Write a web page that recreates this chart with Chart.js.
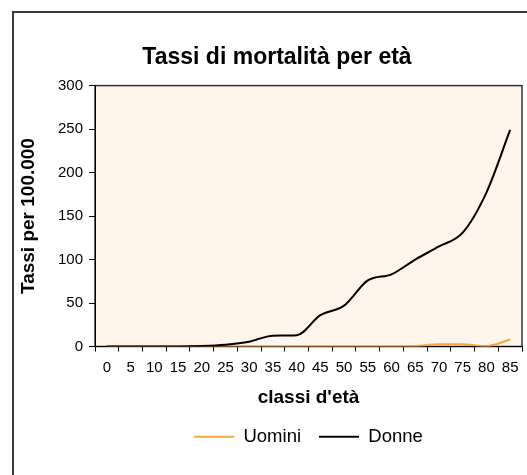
<!DOCTYPE html>
<html>
<head>
<meta charset="utf-8">
<script src="https://cdn.jsdelivr.net/npm/chart.js@4.4.1/dist/chart.umd.min.js"></script>
<style>
    html, body { margin: 0; padding: 0; background: #fff; }
    #wrap { position: relative; width: 527px; height: 475px; }
</style>
</head>
<body>
<div id="wrap"><canvas id="mortalityChart" width="527" height="475"></canvas></div>
<script>
// classi d'età (categorie asse x)
var ageClasses = ['0', '5', '10', '15', '20', '25', '30', '35', '40', '45', '50', '55', '60', '65', '70', '75', '80', '85'];
// tassi per 100.000
var uominiRates = [0, 0, 0, 0, 0, 0, 0, 0, 0, 0, 0, 0, 0, 0.5, 2.5, 2.5, 0.5, 8];
var donneRates = [0, 0, 0, 0, 0.5, 2, 5.5, 12.5, 13, 36, 47, 76, 83, 100, 115, 131, 177, 249];
var yTicks = [0, 50, 100, 150, 200, 250, 300];

var fontFamily = "'Liberation Sans', Arial, sans-serif";

// cornice esterna + sfondo area del tracciato
var frameAndPlot = {
    id: 'frameAndPlot',
    beforeDraw: function (chart) {
        var ctx = chart.ctx;
        var a = chart.chartArea;
        ctx.save();
        ctx.fillStyle = '#ffffff';
        ctx.fillRect(0, 0, chart.width, chart.height);
        ctx.strokeStyle = '#3a3a3a';
        ctx.lineWidth = 2;
        ctx.strokeRect(13, 12, chart.width + 20, chart.height + 20);
        ctx.fillStyle = '#FFF5EB';
        ctx.fillRect(a.left, a.top, a.right - a.left, a.bottom - a.top);
        ctx.strokeStyle = '#333333';
        ctx.lineWidth = 1.5;
        ctx.strokeRect(a.left, a.top, a.right - a.left, a.bottom - a.top);
        ctx.restore();
    }
};

new Chart(document.getElementById('mortalityChart').getContext('2d'), {
    type: 'line',
    data: {
        labels: ageClasses,
        datasets: [{
            label: 'Uomini',
            data: uominiRates,
            borderColor: '#F5A63C',
            backgroundColor: '#F5A63C',
            borderWidth: 2,
            pointRadius: 0,
            cubicInterpolationMode: 'monotone',
            order: 1
        },
        {
            label: 'Donne',
            data: donneRates,
            borderColor: '#000000',
            backgroundColor: '#000000',
            borderWidth: 2,
            pointRadius: 0,
            cubicInterpolationMode: 'monotone',
            order: 0
        }]
    },
    options: {
        responsive: false,
        animation: false,
        devicePixelRatio: 1,
        layout: {
            padding: { left: 32, right: 5, top: 12, bottom: 19 }
        },
        scales: {
            x: {
                offset: true,
                afterFit: function (scale) { scale.height = 63; },
                grid: {
                    offset: true,
                    drawOnChartArea: false,
                    drawTicks: true,
                    tickLength: 5,
                    color: '#000'
                },
                border: { display: true, color: '#000', width: 1 },
                ticks: {
                    autoSkip: false,
                    maxRotation: 0,
                    padding: 7,
                    color: '#000',
                    font: { family: fontFamily, size: 15 }
                },
                title: {
                    display: true,
                    text: "classi d'età",
                    color: '#000',
                    padding: { top: 0, bottom: 0 },
                    font: { family: fontFamily, size: 19, weight: 'bold' }
                }
            },
            y: {
                min: 0,
                max: 300,
                afterFit: function (scale) { scale.width = 63; },
                afterBuildTicks: function (scale) {
                    scale.ticks = yTicks.map(function (v) { return { value: v }; });
                },
                grid: {
                    drawOnChartArea: false,
                    drawTicks: true,
                    tickLength: 6,
                    color: '#000'
                },
                border: { display: true, color: '#000', width: 1 },
                ticks: {
                    padding: 6,
                    color: '#000',
                    font: { family: fontFamily, size: 15 }
                },
                title: {
                    display: true,
                    text: 'Tassi per 100.000',
                    color: '#000',
                    padding: { top: -15, bottom: 0 },
                    font: { family: fontFamily, size: 19, weight: 'bold' }
                }
            }
        },
        plugins: {
            title: {
                display: true,
                text: 'Tassi di mortalità per età',
                color: '#000',
                padding: { top: 32, bottom: 14 },
                font: { family: fontFamily, size: 23, weight: 'bold' }
            },
            legend: {
                position: 'bottom',
                fullSize: false,
                labels: {
                    usePointStyle: true,
                    pointStyle: 'line',
                    pointStyleWidth: 40,
                    padding: 18,
                    color: '#000',
                    font: { family: fontFamily, size: 18.5 },
                    sort: function (a, b) { return a.datasetIndex - b.datasetIndex; }
                }
            },
            tooltip: { enabled: false }
        }
    },
    plugins: [frameAndPlot]
});
</script>
</body>
</html>
